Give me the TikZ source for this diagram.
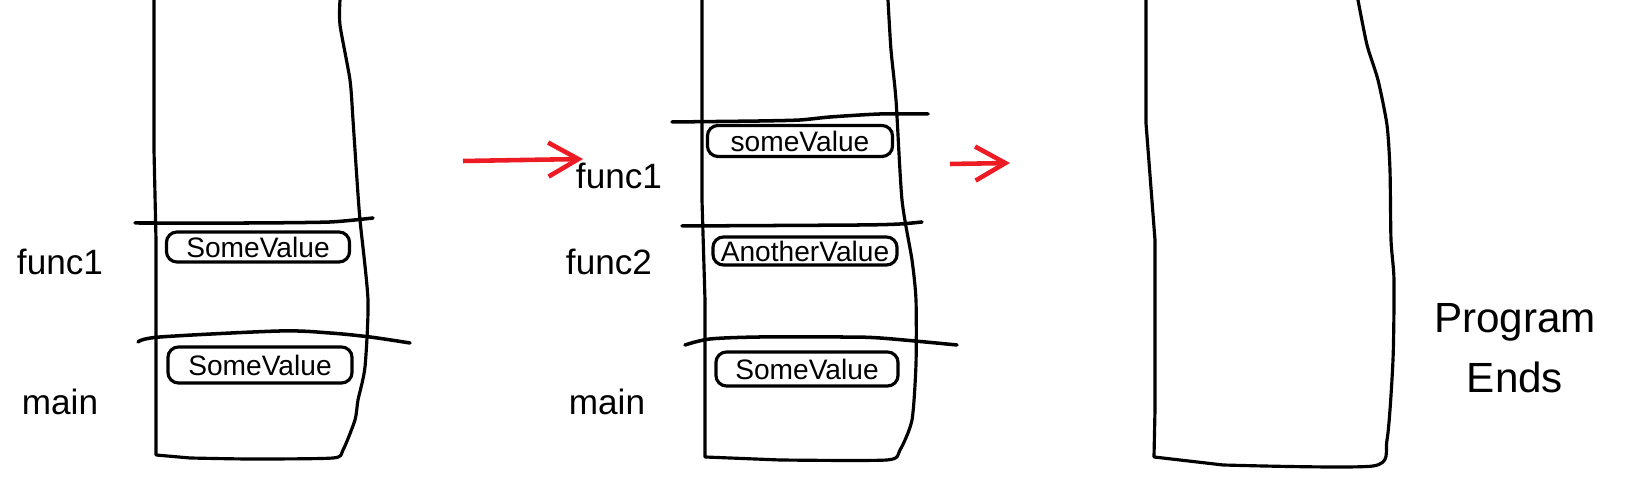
\documentclass[tikz,border=0pt]{standalone}
\usepackage{fontspec}
\setmainfont{Liberation Sans}
\usetikzlibrary{arrows.meta}
\definecolor{paintred}{RGB}{237,28,36}
\tikzset{
	stackline/.style={line width=0.9pt, line join=round, line cap=round},
	divline/.style={line width=1pt, line cap=round},
	valbox/.style={draw, line width=0.9pt, rounded corners=3pt, inner sep=0pt,
		font=\fontsize{8}{10}\selectfont},
	framelbl/.style={font=\fontsize{10}{12}\selectfont},
	callarrow/.style={draw=paintred, line width=1.3pt,
		-{Straight Barb[length=3mm,width=3.4mm,line width=1.3pt]}}
}
\begin{document}
\begin{tikzpicture}[x=0.01cm, y=-0.01cm]
	\useasboundingbox (0,0) rectangle (1629,483);
	%第一个栈
	\draw [stackline] (154,0) -- (154,150) -- (156,240) -- (156,455) -- plot [smooth, tension=0.4] coordinates {(190,458) (250,459) (333,458) (343,450) (355,420) (358,400) (365,367) (368,300) (360,220) (357,180) (353,120) (350,80) (340,25) (340,0)};
	\draw [divline] plot [smooth, tension=0.4] coordinates {(135,223) (250,223) (330,222) (373,218)};
	\draw [divline] plot [smooth, tension=0.5] coordinates {(138,342) (160,337) (280,331) (330,333) (370,337) (410,343)};
	\node [valbox, minimum width=1.83cm, minimum height=0.30cm] (valA) at (258,247) {SomeValue};
	\node [valbox, minimum width=1.84cm, minimum height=0.36cm] (valB) at (260,365) {SomeValue};
	\node [framelbl] (lblFuncA) at (60,262) {func1};
	\node [framelbl] (lblMainA) at (60,402) {main};
	
	%箭头
	\coordinate (arrA-from) at (463,161);
	\coordinate (arrA-to) at (583,159);
	\draw [callarrow] (arrA-from) -- (arrA-to);
	
	%第二个栈
	\draw [stackline] (702,0) -- (702,200) -- (705,300) -- (705,457) -- plot [smooth, tension=0.4] coordinates {(780,460) (887,460) (900,450) (912,420) (916,364) (916,300) (912,260) (902,200) (896,100) (891,50) (888,0)};
	\draw [divline] plot [smooth, tension=0.4] coordinates {(672,122) (760,121) (800,120) (830,117) (880,114) (928,114)};
	\draw [divline] plot [smooth, tension=0.4] coordinates {(682,226) (860,225) (900,224) (922,222)};
	\draw [divline] plot [smooth, tension=0.5] coordinates {(685,345) (710,339) (760,337) (840,337) (880,338) (957,345)};
	\node [valbox, minimum width=1.85cm, minimum height=0.31cm] (valC) at (800,141) {someValue};
	\node [valbox, minimum width=1.84cm, minimum height=0.28cm] (valD) at (805,251) {AnotherValue};
	\node [valbox, minimum width=1.82cm, minimum height=0.34cm] (valE) at (807,369) {SomeValue};
	\node [framelbl] (lblFuncB) at (619,176) {func1};
	\node [framelbl] (lblFuncC) at (609,262) {func2};
	\node [framelbl] (lblMainB) at (607,402) {main};
	
	%箭头
	\coordinate (arrB-from) at (950,164);
	\coordinate (arrB-to) at (1010,163);
	\draw [callarrow] (arrB-from) -- (arrB-to);
	
	%第三个栈
	\draw [stackline] (1146,0) -- (1146,123) -- (1155,240) -- (1155,410) -- (1154,457) -- plot [smooth, tension=0.4] coordinates {(1223,465) (1373,466) (1387,440) (1393,360) (1394,280) (1391,240) (1390,170) (1387,125) (1378,80) (1367,45) (1358,0)};
	\node [framelbl, align=center, font=\fontsize{12}{17}\selectfont] (lblEnd) at (1515,348) {Program\\Ends};
\end{tikzpicture}
\end{document}
